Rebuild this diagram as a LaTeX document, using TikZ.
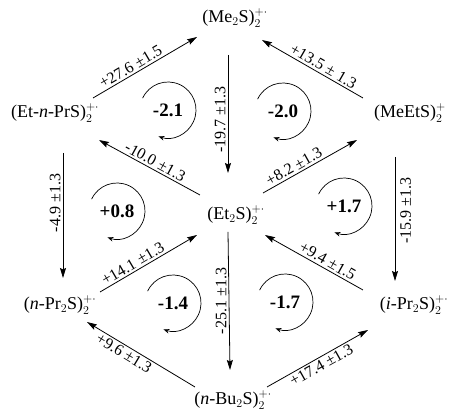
\documentclass[tikz,border=0pt]{standalone}
\usepackage{fontspec}
\setmainfont{Liberation Serif}
\usepackage{amsmath}
\usetikzlibrary{arrows.meta, positioning, calc}
\tikzstyle{ion} = [inner sep=1pt, font=\fontsize{18}{20}\selectfont]
\tikzstyle{val} = [inner sep=2pt, font=\fontsize{16}{18}\selectfont]
\tikzstyle{cyc} = [inner sep=1pt, font=\fontsize{19}{21}\selectfont\bfseries]
\tikzstyle{arrow} = [-{Stealth[length=10pt, width=6pt, inset=1.5pt]}, line width=0.8pt]
\tikzstyle{turn} = [-{Stealth[length=6pt, width=4.5pt]}, line width=0.7pt]

\begin{document}
\begin{tikzpicture}[x=1pt, y=1pt]
    \useasboundingbox (0,0) rectangle (450,411);

    % Ions
    \node[ion] (me2) at (235,393) {(Me$_2$S)$_2^{+\cdot}$};
    \node[ion] (etpr) at (55,298) {(Et-\textit{n}-PrS)$_2^{+\cdot}$};
    \node[ion] (meet) at (410,298) {(MeEtS)$_2^{+}$};
    \node[ion] (et2) at (236,196) {(Et$_2$S)$_2^{+\cdot}$};
    \node[ion] (npr) at (60,106) {(\textit{n}-Pr$_2$S)$_2^{+\cdot}$};
    \node[ion] (ipr) at (414,106) {(\textit{i}-Pr$_2$S)$_2^{+\cdot}$};
    \node[ion] (nbu) at (233,11) {(\textit{n}-Bu$_2$S)$_2^{+\cdot}$};

    % Arrows
    \draw[arrow] ([shift={(38,15)}]etpr.center) -- node[val, sloped, above, pos=0.4] {+27.6 ±1.5} ([shift={(-38,-19)}]me2.center);
    \draw[arrow] ([shift={(-47,15)}]meet.center) -- node[val, sloped, above, pos=0.43] {+13.5 ± 1.3} ([shift={(27,-22)}]me2.center);
    \draw[arrow] ([shift={(-7,-37)}]me2.center) -- node[val, pos=0.55, rotate=90, anchor=south] {-19.7 ±1.3} ([shift={(-8,42)}]et2.center);
    \draw[arrow] ([shift={(-36,20)}]et2.center) -- node[val, sloped, above, pos=0.48] {-10.0 ±1.3} ([shift={(44,-27)}]etpr.center);
    \draw[arrow] ([shift={(27,22)}]et2.center) -- node[val, sloped, above, pos=0.37] {+8.2 ±1.3} ([shift={(-53,-27)}]meet.center);
    \draw[arrow] ([shift={(8,-40)}]etpr.center) -- node[val, pos=0.4, rotate=90, anchor=south] {-4.9 ±1.3} ([shift={(3,27)}]npr.center);
    \draw[arrow] ([shift={(-15,-44)}]meet.center) -- node[val, pos=0.43, rotate=90, anchor=north, inner sep=5pt] {-15.9 ±1.3} ([shift={(-19,24)}]ipr.center);
    \draw[arrow] ([shift={(40,13)}]npr.center) -- node[val, sloped, above, pos=0.38] {+14.1 ±1.3} ([shift={(-39,-20)}]et2.center);
    \draw[arrow] ([shift={(-51,15)}]ipr.center) -- node[val, sloped, above, pos=0.4] {+9.4 ±1.5} ([shift={(29,-20)}]et2.center);
    \draw[arrow] ([shift={(-8,-17)}]et2.center) -- node[val, midway, rotate=90, anchor=south] {-25.1 ±1.3} ([shift={(-3,30)}]nbu.center);
    \draw[arrow] ([shift={(-38,13)}]nbu.center) -- node[val, sloped, below, pos=0.62] {+9.6 ±1.3} ([shift={(27,-17)}]npr.center);
    \draw[arrow] ([shift={(34,13)}]nbu.center) -- node[val, sloped, below, pos=0.5] {+17.4 ±1.3} ([shift={(-46,-25)}]ipr.center);

    % Cycles
    \foreach \name/\x/\y/\val in {ca/168/301/-2.1, cb/283/300/-2.0, cc/117/200/+0.8, cd/344/205/+1.7, ce/173/108/-1.4, cf/285/109/-1.7}{
        \node[cyc] (\name) at (\x,\y) {\val};
        \draw[turn] ([shift={(155:28)}]\name.center) arc[start angle=155, end angle=-110, radius=28];
    }
\end{tikzpicture}
\end{document}
